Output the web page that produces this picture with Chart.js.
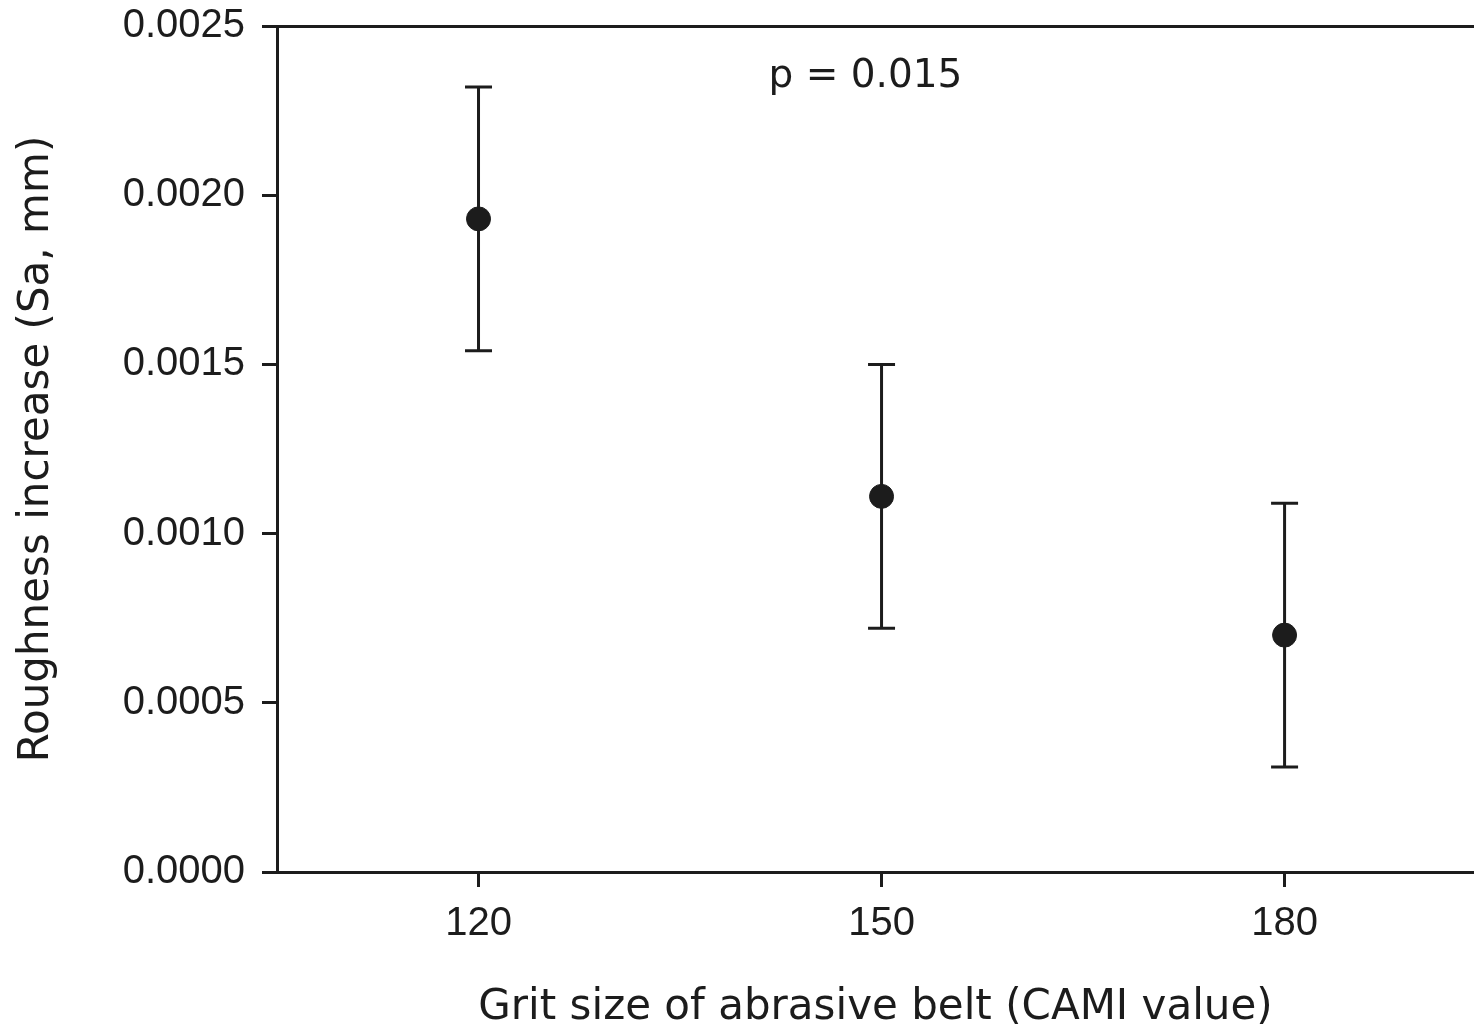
<!DOCTYPE html>
<html>
<head>
<meta charset="utf-8">
<title>Roughness increase vs grit size</title>
<script src="https://cdn.jsdelivr.net/npm/chart.js@4/dist/chart.umd.min.js"></script>
<style>
  html, body { margin: 0; padding: 0; background: #fff; overflow: hidden; }
  #wrap { width: 1474px; height: 1029px; }
</style>
</head>
<body>
<div id="wrap"><canvas id="sa" width="1474" height="1029"></canvas></div>
<script>
// grit sizes (CAMI) and the measured Sa increase, mm
const grit   = [120, 150, 180];
const meanSa = [0.00193, 0.00111, 0.00070];
const upperSa = [0.00232, 0.00150, 0.00109];
const lowerSa = [0.00154, 0.00072, 0.00031];

const yTicks = [0, 0.0005, 0.0010, 0.0015, 0.0020, 0.0025];
const pLabel = "p = 0.015";
const pAt = { x: 148.8, y: 0.00232 };

const ink = "#1c1c1c";
const tickFont = { family: "'Liberation Sans', Arial, sans-serif", size: 40 };
const titleFont = { family: "'DejaVu Sans', sans-serif", size: 42, lineHeight: 1.2 };

// whiskers + caps, under the markers
const errorBars = {
  id: "errorBars",
  beforeDatasetsDraw(chart) {
    const { ctx, scales: { x, y } } = chart;
    const cap = 13.5;
    ctx.save();
    ctx.strokeStyle = ink;
    ctx.lineWidth = 3;
    grit.forEach((g, i) => {
      const px = x.getPixelForValue(g);
      const top = y.getPixelForValue(upperSa[i]);
      const bot = y.getPixelForValue(lowerSa[i]);
      ctx.beginPath();
      ctx.moveTo(px, top); ctx.lineTo(px, bot);
      ctx.moveTo(px - cap, top); ctx.lineTo(px + cap, top);
      ctx.moveTo(px - cap, bot); ctx.lineTo(px + cap, bot);
      ctx.stroke();
    });
    ctx.restore();
  }
};

// p-value note inside the frame
const pNote = {
  id: "pNote",
  afterDatasetsDraw(chart) {
    const { ctx, scales: { x, y } } = chart;
    ctx.save();
    ctx.fillStyle = ink;
    ctx.font = "39px 'DejaVu Sans', sans-serif";
    ctx.textAlign = "center";
    ctx.textBaseline = "alphabetic";
    ctx.fillText(pLabel, x.getPixelForValue(pAt.x), y.getPixelForValue(pAt.y));
    ctx.restore();
  }
};

// fixed axis boxes, no extra room reserved for edge labels
const noEdgePad = s => { s.paddingTop = s.paddingBottom = s.paddingLeft = s.paddingRight = 0; };

new Chart(document.getElementById("sa"), {
  type: "scatter",
  data: {
    datasets: [{
      data: grit.map((g, i) => ({ x: g, y: meanSa[i] })),
      backgroundColor: ink,
      borderColor: ink,
      borderWidth: 1,
      pointRadius: 12,
      pointHoverRadius: 12
    }]
  },
  options: {
    responsive: false,
    devicePixelRatio: 1,
    animation: false,
    layout: { autoPadding: false, padding: { left: 0, top: 26, right: 0, bottom: 0 } },
    plugins: { legend: { display: false }, tooltip: { enabled: false } },
    scales: {
      x: {
        type: "linear",
        position: "bottom",
        min: 105,
        max: 194.1,
        afterBuildTicks: s => { s.ticks = grit.map(v => ({ value: v })); },
        afterFit: s => { s.height = 157; noEdgePad(s); },
        ticks: { color: ink, font: tickFont, padding: 13, maxRotation: 0 },
        grid: { drawOnChartArea: false, drawTicks: true, tickLength: 15, lineWidth: 3, color: ink },
        border: { display: true, color: ink, width: 3 },
        title: {
          display: true,
          text: "Grit size of abrasive belt (CAMI value)",
          color: ink,
          font: titleFont,
          padding: { top: 0, bottom: -4 }
        }
      },
      xTop: {
        type: "linear",
        position: "top",
        min: 105,
        max: 194.1,
        afterFit: s => { s.height = 0; noEdgePad(s); },
        ticks: { display: false },
        grid: { drawOnChartArea: false, drawTicks: false },
        border: { display: true, color: ink, width: 3 }
      },
      y: {
        min: 0,
        max: 0.0025,
        afterBuildTicks: s => { s.ticks = yTicks.map(v => ({ value: v })); },
        afterFit: s => { s.width = 277; noEdgePad(s); },
        ticks: { color: ink, font: tickFont, padding: 17, callback: v => v.toFixed(4) },
        grid: { drawOnChartArea: false, drawTicks: true, tickLength: 15, lineWidth: 3, color: ink },
        border: { display: true, color: ink, width: 3 },
        title: {
          display: true,
          text: "Roughness increase (Sa, mm)",
          color: ink,
          font: titleFont,
          padding: { top: 12, bottom: 0 }
        }
      }
    }
  },
  plugins: [errorBars, pNote]
});
</script>
</body>
</html>
